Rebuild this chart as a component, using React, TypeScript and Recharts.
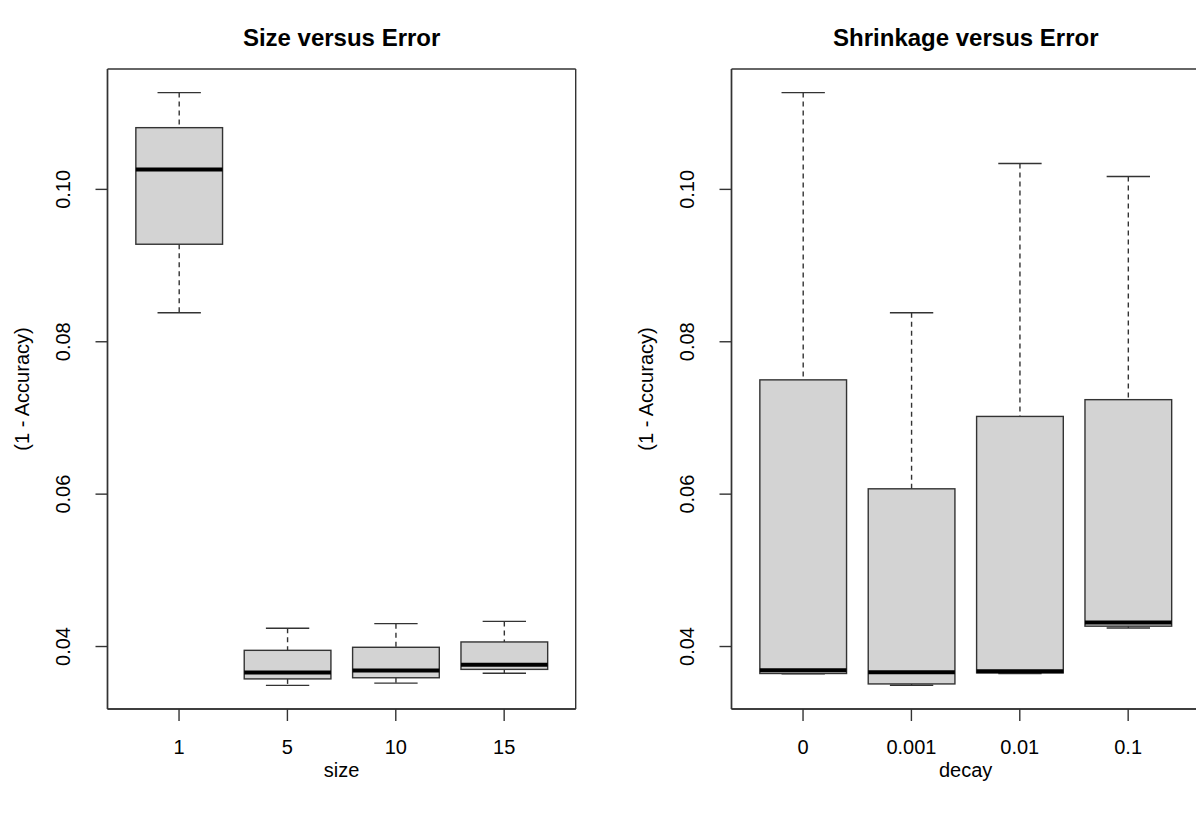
import React from 'react';
import { ComposedChart, Bar, XAxis, YAxis, Label, CartesianGrid } from 'recharts';

// ---- data: size vs error ----
const sizeCategories = ['1', '5', '10', '15'];
const sizeMin = [0.0838, 0.0349, 0.0352, 0.0365];
const sizeQ1 = [0.0928, 0.03575, 0.0359, 0.0370];
const sizeMedian = [0.1026, 0.0366, 0.03685, 0.0376];
const sizeQ3 = [0.1081, 0.0395, 0.0399, 0.0406];
const sizeMax = [0.1127, 0.0424, 0.0430, 0.0433];

// ---- data: decay (shrinkage) vs error ----
const decayCategories = ['0', '0.001', '0.01', '0.1'];
const decayMin = [0.03643, 0.03492, 0.03646, 0.04244];
const decayQ1 = [0.03646, 0.03509, 0.03654, 0.04267];
const decayMedian = [0.03689, 0.03663, 0.03676, 0.04315];
const decayQ3 = [0.0750, 0.0607, 0.0702, 0.0724];
const decayMax = [0.1127, 0.0838, 0.1034, 0.1017];

const yTicks = [0.04, 0.06, 0.08, 0.1];
const yDomain: [number, number] = [0.0318, 0.1158];

const FONT = "'Liberation Sans', Arial, Helvetica, sans-serif";
const LINE = '#333';

function buildRows(cats: string[], mins: number[], q1s: number[], meds: number[], q3s: number[], maxs: number[]) {
  return cats.map((c, i) => ({
    cat: c,
    min: mins[i],
    q1: q1s[i],
    median: meds[i],
    q3: q3s[i],
    max: maxs[i],
    span: [mins[i], maxs[i]],
  }));
}

const sizeRows = buildRows(sizeCategories, sizeMin, sizeQ1, sizeMedian, sizeQ3, sizeMax);
const decayRows = buildRows(decayCategories, decayMin, decayQ1, decayMedian, decayQ3, decayMax);

const BoxShape = (props: any) => {
  const { x, y, width, height, payload } = props;
  if (!payload) return null;
  const top = Math.min(y, y + height);
  const bottom = Math.max(y, y + height);
  const { min, q1, median, q3, max } = payload;
  const toPx = (v: number) => (max === min ? top : top + ((max - v) / (max - min)) * (bottom - top));
  const cx = x + width / 2;
  const capHalf = width / 4;
  const yMax = toPx(max);
  const yQ3 = toPx(q3);
  const yMed = toPx(median);
  const yQ1 = toPx(q1);
  const yMin = toPx(min);
  return (
    <g>
      <line x1={cx} x2={cx} y1={yMax} y2={yQ3} stroke={LINE} strokeWidth={1.4} strokeDasharray="5 4" />
      <line x1={cx} x2={cx} y1={yQ1} y2={yMin} stroke={LINE} strokeWidth={1.4} strokeDasharray="5 4" />
      <line x1={cx - capHalf} x2={cx + capHalf} y1={yMax} y2={yMax} stroke={LINE} strokeWidth={1.4} />
      <line x1={cx - capHalf} x2={cx + capHalf} y1={yMin} y2={yMin} stroke={LINE} strokeWidth={1.4} />
      <rect x={x} y={yQ3} width={width} height={Math.max(0, yQ1 - yQ3)} fill="#d3d3d3" stroke={LINE} strokeWidth={1.4} />
      <line x1={x} x2={x + width} y1={yMed} y2={yMed} stroke="#000" strokeWidth={4} />
    </g>
  );
};

const XTick = (props: any) => {
  const { x, y, payload } = props;
  return (
    <text x={x} y={y + 33} textAnchor="middle" fontFamily={FONT} fontSize={20} fill="#000">
      {payload.value}
    </text>
  );
};

const YTick = (props: any) => {
  const { x, y, payload } = props;
  const bx = x - 25;
  return (
    <text
      x={bx}
      y={y}
      transform={`rotate(-90, ${bx}, ${y})`}
      textAnchor="middle"
      fontFamily={FONT}
      fontSize={20}
      fill="#000"
    >
      {Number(payload.value).toFixed(2)}
    </text>
  );
};

const makeXLabel = (label: string) => (props: any) => {
  const vb = props.viewBox || {};
  return (
    <text x={vb.x + vb.width / 2} y={vb.y + 68} textAnchor="middle" fontFamily={FONT} fontSize={20} fill="#000">
      {label}
    </text>
  );
};

const makeYLabel = (label: string) => (props: any) => {
  const vb = props.viewBox || {};
  const bx = vb.x + vb.width - 79;
  const cy = vb.y + vb.height / 2;
  return (
    <text
      x={bx}
      y={cy}
      transform={`rotate(-90, ${bx}, ${cy})`}
      textAnchor="middle"
      fontFamily={FONT}
      fontSize={20}
      fill="#000"
    >
      {label}
    </text>
  );
};

const PAD = { left: 17.35, right: 17.35 };
const CHART_W = 598;
const CHART_H = 814;
const MARGIN = { top: 69, right: 22.3, bottom: 0, left: 0 };
const Y_AXIS_W = 107.5;

const frameH = (p: any) => {
  const o = p.offset || {};
  return [o.top, o.top + o.height];
};
const frameV = (p: any) => {
  const o = p.offset || {};
  return [o.left, o.left + o.width];
};

function BoxPanel({ rows, title, xLabel }: { rows: any[]; title: string; xLabel: string }) {
  const plotW = CHART_W - MARGIN.left - MARGIN.right - Y_AXIS_W;
  return (
    <div style={{ position: 'relative', width: CHART_W, height: CHART_H }}>
      <div
        style={{
          position: 'absolute',
          left: MARGIN.left + Y_AXIS_W,
          width: plotW,
          top: 25.7,
          textAlign: 'center',
          fontFamily: FONT,
          fontSize: 24,
          lineHeight: '24px',
          fontWeight: 'bold',
          color: '#000',
          whiteSpace: 'nowrap',
        }}
      >
        {title}
      </div>
      <ComposedChart width={CHART_W} height={CHART_H} data={rows} margin={MARGIN}>
        <CartesianGrid
          stroke={LINE}
          strokeWidth={1.4}
          fill="none"
          horizontalCoordinatesGenerator={frameH}
          verticalCoordinatesGenerator={frameV}
        />
        <XAxis
          dataKey="cat"
          type="category"
          padding={PAD}
          height={105}
          tickSize={12}
          tickMargin={0}
          tick={<XTick />}
          tickLine={{ stroke: LINE, strokeWidth: 1.4 }}
          axisLine={{ stroke: LINE, strokeWidth: 1.4 }}
          interval={0}
          label={<Label content={makeXLabel(xLabel)} />}
        />
        <YAxis
          type="number"
          domain={yDomain}
          allowDataOverflow
          ticks={yTicks}
          width={Y_AXIS_W}
          tickSize={12}
          tickMargin={0}
          tick={<YTick />}
          tickLine={{ stroke: LINE, strokeWidth: 1.4 }}
          axisLine={{ stroke: LINE, strokeWidth: 1.4 }}
          label={<Label content={makeYLabel('(1 - Accuracy)')} />}
        />
        <Bar dataKey="span" barSize={86.7} shape={<BoxShape />} isAnimationActive={false} />
      </ComposedChart>
    </div>
  );
}

export default function App() {
  return (
    <div
      style={{
        position: 'absolute',
        left: 0,
        top: 0,
        width: 1196,
        height: 814,
        overflow: 'hidden',
        background: '#fff',
      }}
    >
      <div style={{ position: 'absolute', left: 0, top: 0 }}>
        <BoxPanel rows={sizeRows} title="Size versus Error" xLabel="size" />
      </div>
      <div style={{ position: 'absolute', left: 624.2, top: 0 }}>
        <BoxPanel rows={decayRows} title="Shrinkage versus Error" xLabel="decay" />
      </div>
    </div>
  );
}
